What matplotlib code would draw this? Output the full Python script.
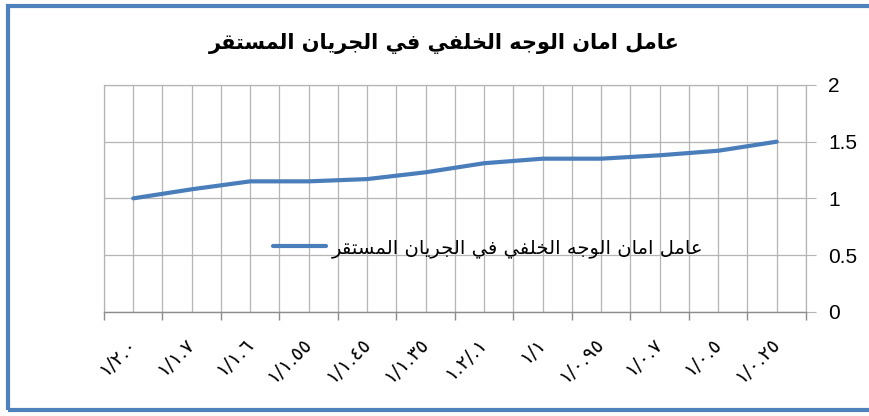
import matplotlib
matplotlib.use('Agg')
import matplotlib.pyplot as plt
from matplotlib.patches import Rectangle

# --- data ---
title_ar = 'عامل امان الوجه الخلفي في الجريان المستقر'
categories = ['١/٢.٠', '١/١.٧', '١/١.٦', '١/١.٥٥', '١/١.٤٥', '١/١.٣٥',
              '١.٢/.١', '١/١', '١/٠.٩٥', '١/٠.٧', '١/٠.٥', '١/٠.٢٥']
safety = [1.0, 1.08, 1.15, 1.15, 1.17, 1.23, 1.31, 1.35, 1.35, 1.38, 1.42, 1.5]
y_ticks = [0, 0.5, 1, 1.5, 2]
y_labels = ['0', '0.5', '1', '1.5', '2']

# arabic letters -> (isolated, final, initial, medial); None = does not join left
FORMS = {
    'ا': ('\uFE8D', '\uFE8E', None, None),
    'ت': ('\uFE95', '\uFE96', '\uFE97', '\uFE98'),
    'ج': ('\uFE9D', '\uFE9E', '\uFE9F', '\uFEA0'),
    'خ': ('\uFEA5', '\uFEA6', '\uFEA7', '\uFEA8'),
    'ر': ('\uFEAD', '\uFEAE', None, None),
    'س': ('\uFEB1', '\uFEB2', '\uFEB3', '\uFEB4'),
    'ع': ('\uFEC9', '\uFECA', '\uFECB', '\uFECC'),
    'ف': ('\uFED1', '\uFED2', '\uFED3', '\uFED4'),
    'ق': ('\uFED5', '\uFED6', '\uFED7', '\uFED8'),
    'ل': ('\uFEDD', '\uFEDE', '\uFEDF', '\uFEE0'),
    'م': ('\uFEE1', '\uFEE2', '\uFEE3', '\uFEE4'),
    'ن': ('\uFEE5', '\uFEE6', '\uFEE7', '\uFEE8'),
    'ه': ('\uFEE9', '\uFEEA', '\uFEEB', '\uFEEC'),
    'و': ('\uFEED', '\uFEEE', None, None),
    'ي': ('\uFEF1', '\uFEF2', '\uFEF3', '\uFEF4'),
}


def shape(text):
    # simple contextual shaping + visual (right to left) order
    out = []
    for i, ch in enumerate(text):
        if ch not in FORMS:
            out.append(ch)
            continue
        prev = text[i - 1] if i > 0 else ''
        nxt = text[i + 1] if i + 1 < len(text) else ''
        iso, fin, ini, med = FORMS[ch]
        jp = prev in FORMS and FORMS[prev][2] is not None
        jn = nxt in FORMS and ini is not None
        if jp and jn:
            out.append(med)
        elif jp:
            out.append(fin)
        elif jn:
            out.append(ini)
        else:
            out.append(iso)
    return ''.join(out)[::-1]


plt.rcParams['font.family'] = ['Liberation Sans', 'DejaVu Sans']

fig = plt.figure(figsize=(8.7, 4.16), dpi=100)
ax = fig.add_axes([104 / 870, 1 - 311.7 / 416, 702 / 870, 226.7 / 416])

x = list(range(len(categories)))
ax.plot(x, safety, color='#4A7EBB', lw=3.0, solid_capstyle='round',
        label=shape(title_ar))

ax.set_xlim(-0.5, len(categories) - 0.5)
ax.set_ylim(0, 2)

grid_c = '#B5B5B5'
ax.set_xticks(x)
ax.set_xticklabels(categories, rotation=45, ha='right', va='center',
                   rotation_mode='anchor', fontsize=14, family=['DejaVu Sans'])
ax.set_xticks([i - 0.5 for i in range(len(categories) + 1)], minor=True)
ax.tick_params(axis='x', which='major', length=0, pad=21)
ax.tick_params(axis='x', which='minor', length=6, color='#8C8C8C', width=1)

ax.yaxis.tick_right()
ax.set_yticks(y_ticks)
ax.set_yticklabels(y_labels, fontsize=15)
ax.tick_params(axis='y', length=7, color=grid_c, pad=9)

ax.grid(True, which='both', axis='x', color=grid_c, lw=0.9)
ax.grid(True, which='major', axis='y', color=grid_c, lw=0.9)
ax.set_axisbelow(True)
for s in ['left', 'right', 'top']:
    ax.spines[s].set_color(grid_c)
    ax.spines[s].set_linewidth(0.9)
ax.spines['bottom'].set_color('#8C8C8C')
ax.spines['bottom'].set_linewidth(1.0)

leg = ax.legend(loc='center', bbox_to_anchor=(0.547, 0.281), frameon=False,
                handlelength=2.7, handletextpad=0.3,
                prop={'family': ['DejaVu Sans'], 'size': 14})

fig.text(0.511, 0.895, shape(title_ar), ha='center', va='center',
         fontsize=15, weight='bold', family=['DejaVu Sans'])

fig.patches.append(Rectangle((8 / 870, 6 / 416), 1.0, 404 / 416,
                             transform=fig.transFigure, fill=False,
                             ec='#4F81BD', lw=3))

fig.savefig('out.png', dpi=100, facecolor='white')
